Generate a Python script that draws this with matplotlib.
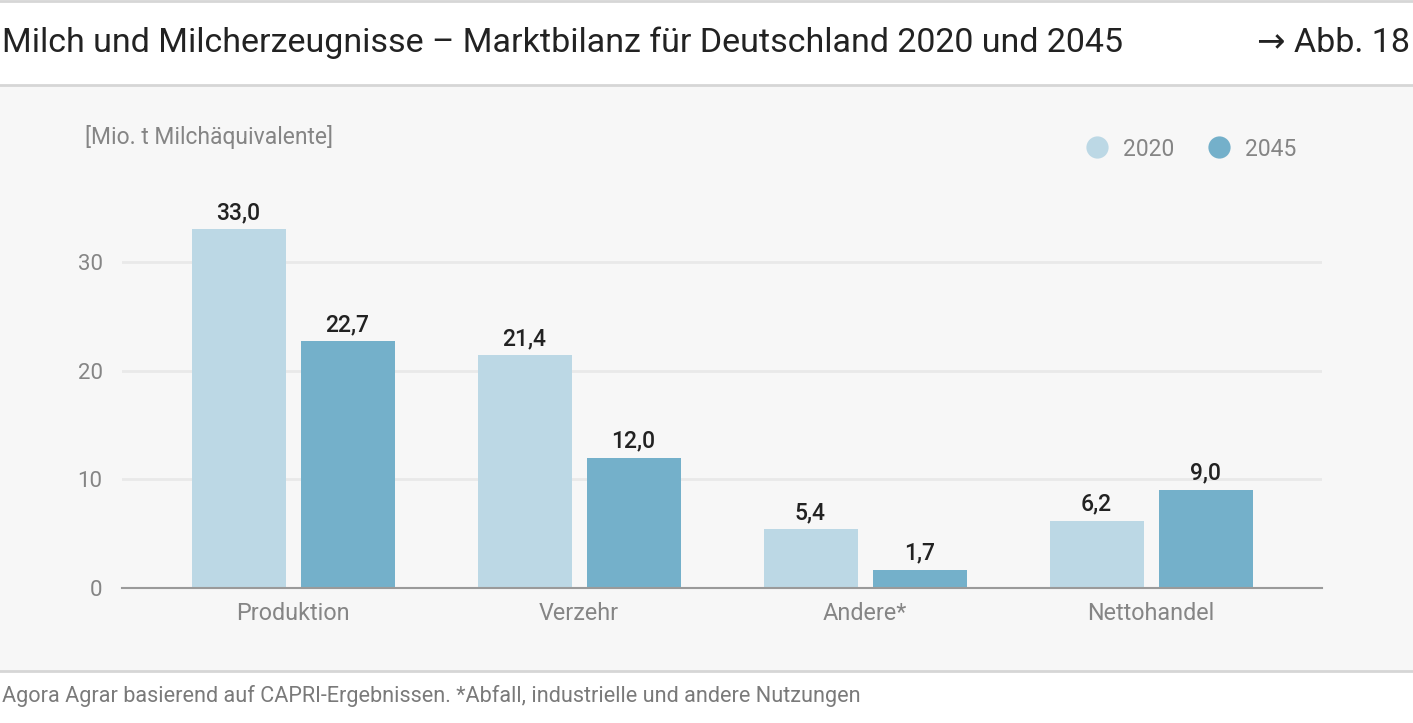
import matplotlib
matplotlib.use("Agg")
import matplotlib.pyplot as plt
from matplotlib.lines import Line2D
from matplotlib.patches import Rectangle

categories = ["Produktion", "Verzehr", "Andere*", "Nettohandel"]
years = ["2020", "2045"]
values_2020 = [33.0, 21.4, 5.4, 6.2]
values_2045 = [22.7, 12.0, 1.7, 9.0]
yticks = [0, 10, 20, 30]

COLORS = {"2020": "#bcd8e5", "2045": "#74b0ca"}
GREY_TXT = "#858585"
DARK_TXT = "#222222"

plt.rcParams["font.family"] = ["Roboto", "DejaVu Sans"]

W, H = 1413, 723
fig = plt.figure(figsize=(W / 100, H / 100), dpi=100)
fig.patch.set_facecolor("white")

# grey panel + separator lines
fig.patches.append(Rectangle((0, (H - 671) / H), 1, (671 - 86) / H,
                             transform=fig.transFigure, facecolor="#f7f7f7",
                             edgecolor="none", zorder=-5))
for ypx in [1, 85, 671]:
    fig.add_artist(Line2D([0, 1], [1 - ypx / H] * 2, transform=fig.transFigure,
                          color="#d6d6d6", linewidth=2, zorder=-4))

fig.text(2 / W, 1 - 43 / H, "Milch und Milcherzeugnisse – Marktbilanz für Deutschland 2020 und 2045",
         fontsize=24.5, color=DARK_TXT, va="center", ha="left")
fig.text(1410 / W, 1 - 43 / H, "→ Abb. 18", fontsize=24.5, color=DARK_TXT,
         va="center", ha="right")
fig.text(2 / W, 1 - 696 / H,
         "Agora Agrar basierend auf CAPRI-Ergebnissen. *Abfall, industrielle und andere Nutzungen",
         fontsize=15.6, color="#7a7a7a", va="center", ha="left")
fig.text(85 / W, 1 - 137 / H, "[Mio. t Milchäquivalente]", fontsize=16.5,
         color=GREY_TXT, va="center", ha="left")

# axes
left, right = 122 / W, 1322 / W
bottom = (H - 588) / H
ymax = 36
px_per_unit = (588 - 262) / 30
height = ymax * px_per_unit / H
ax = fig.add_axes([left, bottom, right - left, height])
ax.set_facecolor("none")

width = 94 / 286
off = (94 + 15) / 2 / 286
x = list(range(len(categories)))
for vals, yr, sign in [(values_2020, "2020", -1), (values_2045, "2045", 1)]:
    xs = [i + sign * off for i in x]
    bars = ax.bar(xs, vals, width=width, color=COLORS[yr], zorder=2)
    for b, v in zip(bars, vals):
        ax.text(b.get_x() + b.get_width() / 2, v + 0.5, f"{v:.1f}".replace(".", ","),
                ha="center", va="bottom", fontsize=16.5, color=DARK_TXT, fontweight="medium")

ax.set_xlim(-171 / 286, 3 + 171 / 286)
ax.set_ylim(0, ymax)
ax.set_yticks(yticks)
ax.set_yticklabels([str(t) for t in yticks], fontsize=16, color=GREY_TXT)
ax.set_xticks(x)
ax.set_xticklabels(categories, fontsize=16.8, color=GREY_TXT)
ax.tick_params(axis="both", length=0)
ax.tick_params(axis="y", pad=14)
ax.tick_params(axis="x", pad=10)
ax.grid(axis="y", color="#e9e9e9", linewidth=2, zorder=0)
for s in ["top", "right", "left"]:
    ax.spines[s].set_visible(False)
ax.spines["bottom"].set_color("#9a9a9a")
ax.spines["bottom"].set_linewidth(1.5)
ax.spines["bottom"].set_zorder(3)

handles = [Line2D([], [], marker="o", linestyle="none", markersize=16,
                  markerfacecolor=COLORS[y], markeredgecolor="none", label=y) for y in years]
leg = fig.legend(handles=handles, loc="center", bbox_to_anchor=(1185 / W, 1 - 149 / H),
                 ncol=2, frameon=False, fontsize=16.5, handletextpad=0.13, columnspacing=0.95)
for t in leg.get_texts():
    t.set_color(GREY_TXT)

fig.savefig("out.png", dpi=100, facecolor=fig.get_facecolor())
